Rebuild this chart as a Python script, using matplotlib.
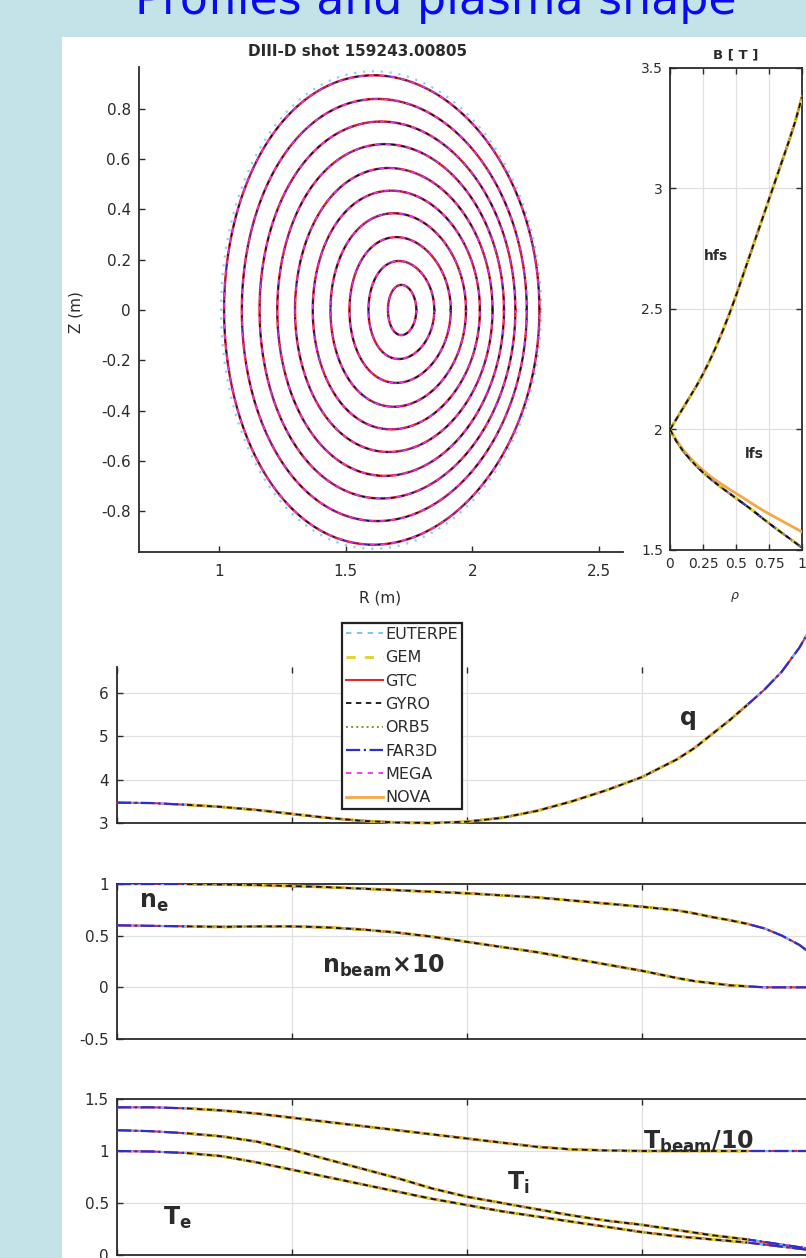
import numpy as np
import matplotlib
matplotlib.use("Agg")
import matplotlib.pyplot as plt
from matplotlib.patches import Rectangle
from matplotlib.lines import Line2D

plt.rcParams['font.family'] = ['DejaVu Sans']
plt.rcParams['axes.unicode_minus'] = False
plt.rcParams['mathtext.fontset'] = 'custom'
plt.rcParams['mathtext.bf'] = 'DejaVu Sans:bold'
plt.rcParams['mathtext.it'] = 'DejaVu Sans:italic'
plt.rcParams['mathtext.rm'] = 'DejaVu Sans'

W, H, DPI = 806, 1258, 100
TEAL = '#c4e3e8'
INK = '#2b2b2b'
GRID = '#e0e0e0'

# ---------------- data ----------------
codes = ["EUTERPE", "GEM", "GTC", "GYRO", "ORB5", "FAR3D", "MEGA", "NOVA"]
code_colors = ['#6fc3e8', '#e6d23a', '#e02a2f', '#111111', '#8e8a3a', '#2f2fc8', '#ee30ee', '#f4a64a']
code_styles = [(0, (3, 3)), (0, (3, 3)), '-', (0, (3, 2.5)), ':', '-.', (0, (3, 3)), '-']
code_widths = [1.3, 2.2, 1.5, 1.3, 1.4, 1.6, 1.3, 2.0]
# radial domain covered by each code in the profile panels
code_rho_min = [0.0, 0.1, 0.0, 0.1, 0.1, 0.0, 0.0, 0.1]
code_rho_max = [1.0, 0.9, 1.0, 0.9, 0.9, 1.0, 1.0, 0.9]

# flux surfaces: inner / outer midplane radius, top height, radius at top (m)
ring_R_in = [1.667, 1.59, 1.515, 1.44, 1.37, 1.30, 1.23, 1.16, 1.09, 1.02]
ring_R_out = [1.779, 1.85, 1.915, 1.975, 2.03, 2.08, 2.125, 2.17, 2.215, 2.265]
ring_Z_top = [0.10, 0.195, 0.29, 0.385, 0.475, 0.565, 0.66, 0.75, 0.84, 0.934]
ring_R_top = [1.72, 1.71, 1.70, 1.69, 1.68, 1.67, 1.655, 1.64, 1.625, 1.61]
# EUTERPE boundary
eut_R_in, eut_R_out, eut_Z_top, eut_R_top = 1.008, 2.272, 0.95, 1.61

# magnetic field on high / low field side
rho_B = [0, 0.05, 0.1, 0.15, 0.2, 0.25, 0.3, 0.35, 0.4, 0.45, 0.5,
         0.55, 0.6, 0.65, 0.7, 0.75, 0.8, 0.85, 0.9, 0.95, 1.0]
B_hfs = [2.0, 2.045, 2.09, 2.135, 2.18, 2.23, 2.285, 2.345, 2.41, 2.48, 2.555,
         2.635, 2.715, 2.795, 2.875, 2.955, 3.035, 3.115, 3.195, 3.28, 3.38]
B_lfs = [2.0, 1.95, 1.91, 1.878, 1.848, 1.822, 1.798, 1.776, 1.755, 1.735, 1.715,
         1.695, 1.675, 1.654, 1.632, 1.611, 1.59, 1.57, 1.55, 1.53, 1.51]
B_lfs_nova = [2.0, 1.955, 1.916, 1.884, 1.856, 1.831, 1.808, 1.788, 1.77, 1.752, 1.735,
              1.718, 1.70, 1.683, 1.666, 1.65, 1.635, 1.62, 1.605, 1.59, 1.575]

# radial profiles
rho = [0, 0.05, 0.1, 0.15, 0.2, 0.25, 0.3, 0.35, 0.4, 0.45, 0.5,
       0.55, 0.6, 0.65, 0.7, 0.75, 0.8, 0.825, 0.85, 0.875, 0.9,
       0.925, 0.95, 0.975, 1.0]
q_prof = [3.47, 3.46, 3.42, 3.37, 3.3, 3.21, 3.12, 3.05, 3.01, 3.0, 3.03,
          3.12, 3.28, 3.5, 3.76, 4.06, 4.47, 4.73, 5.05, 5.37, 5.72,
          6.08, 6.5, 7.05, 7.75]
ne_prof = [1.0, 1.0, 1.0, 0.995, 0.99, 0.98, 0.97, 0.955, 0.94, 0.925, 0.91,
           0.89, 0.87, 0.84, 0.81, 0.78, 0.745, 0.715, 0.68, 0.65, 0.615,
           0.57, 0.5, 0.41, 0.28]
nbeam_prof = [0.6, 0.595, 0.59, 0.585, 0.59, 0.59, 0.58, 0.56, 0.53, 0.49, 0.44,
              0.39, 0.34, 0.28, 0.22, 0.16, 0.09, 0.06, 0.04, 0.02, 0.01,
              0.0, 0.0, 0.0, 0.0]
Tbeam_prof = [1.42, 1.42, 1.41, 1.39, 1.36, 1.32, 1.28, 1.24, 1.2, 1.16, 1.12,
              1.08, 1.04, 1.015, 1.005, 1.0, 1.0, 1.0, 1.0, 1.0, 1.0,
              1.0, 1.0, 1.0, 1.0]
Ti_prof = [1.2, 1.19, 1.17, 1.14, 1.09, 1.01, 0.92, 0.83, 0.74, 0.64, 0.56,
           0.5, 0.44, 0.38, 0.33, 0.29, 0.24, 0.215, 0.19, 0.17, 0.15,
           0.125, 0.1, 0.075, 0.05]
Te_prof = [1.0, 0.995, 0.98, 0.95, 0.89, 0.82, 0.75, 0.68, 0.61, 0.54, 0.48,
           0.42, 0.37, 0.32, 0.27, 0.22, 0.18, 0.165, 0.15, 0.135, 0.12,
           0.1, 0.08, 0.06, 0.04]

# ---------------- figure ----------------
fig = plt.figure(figsize=(W / DPI, H / DPI), dpi=DPI, facecolor=TEAL)
fig.patches.append(Rectangle((62 / W, 0), 1, (H - 37) / H, transform=fig.transFigure,
                             facecolor='white', edgecolor='none', zorder=-10))

fig.text(436 / W, 1 - 14 / H, 'Profiles and plasma shape', ha='center', va='baseline',
         fontsize=33, color='#0a0af0')


def px_axes(x0, y0, x1, y1):
    return fig.add_axes([x0 / W, 1 - y1 / H, (x1 - x0) / W, (y1 - y0) / H])


def style_axes(ax, spines=('left', 'bottom', 'top', 'right')):
    for s in ['left', 'bottom', 'top', 'right']:
        ax.spines[s].set_visible(s in spines)
        ax.spines[s].set_color(INK)
        ax.spines[s].set_linewidth(1.3)
    ax.tick_params(direction='in', length=4, width=1, colors=INK, labelsize=11, pad=6)
    ax.set_facecolor('none')


def surface(R_in, R_out, Z_top, R_top, n=361):
    R0 = 0.5 * (R_in + R_out)
    a = 0.5 * (R_out - R_in)
    kappa = Z_top / a
    delta = (R0 - R_top) / a
    th = np.linspace(0, 2 * np.pi, n)
    return R0 + a * np.cos(th + np.arcsin(delta) * np.sin(th)), kappa * a * np.sin(th)


def cstyle(name):
    i = codes.index(name)
    return dict(color=code_colors[i], ls=code_styles[i], lw=code_widths[i])


# ---- plasma cross-section ----
ax_s = px_axes(139, 67, 623, 552)
style_axes(ax_s, ('left', 'bottom'))
ax_s.set_xlim(0.684, 2.595)
ax_s.set_ylim(-0.963, 0.967)
xt = [1, 1.5, 2, 2.5]
yt = [-0.8, -0.6, -0.4, -0.2, 0, 0.2, 0.4, 0.6, 0.8]
ax_s.set_xticks(xt, ['%g' % v for v in xt])
ax_s.set_yticks(yt, ['%g' % v for v in yt])
ax_s.tick_params(axis='x', pad=9)

Re, Ze = surface(eut_R_in, eut_R_out, eut_Z_top, eut_R_top)
ax_s.plot(Re, Ze, color=code_colors[0], ls=(0, (1, 3)), lw=1.6, alpha=0.8, zorder=2)
for k in range(len(ring_R_in)):
    R, Z = surface(ring_R_in[k], ring_R_out[k], ring_Z_top[k], ring_R_top[k])
    ax_s.plot(R, Z, color=code_colors[2], ls='-', lw=1.8, zorder=3)
    ax_s.plot(R, Z, color=code_colors[5], ls='-.', lw=0.8, zorder=4)
    ax_s.plot(R, Z, color=code_colors[3], ls=(0, (3, 4)), lw=1.0, zorder=5)
    ax_s.plot(R, Z, color=code_colors[6], ls=(3.5, (3, 4)), lw=1.1, zorder=6)

fig.text(358 / W, 1 - 52 / H, 'DIII-D shot 159243.00805', ha='center', va='center',
         fontsize=11, fontweight='bold', color=INK)
fig.text(76 / W, 1 - 312 / H, 'Z (m)', rotation=90, ha='center', va='center',
         fontsize=11, color=INK)
fig.text(380 / W, 1 - 598 / H, 'R (m)', ha='center', va='center', fontsize=11, color=INK)

# ---- magnetic field ----
ax_b = px_axes(670, 68, 802, 550)
style_axes(ax_b)
ax_b.set_xlim(0, 1)
ax_b.set_ylim(1.5, 3.5)
bx = [0, 0.25, 0.5, 0.75, 1]
by = [1.5, 2, 2.5, 3, 3.5]
ax_b.set_xticks(bx, ['%g' % v for v in bx])
ax_b.set_yticks(by, ['%g' % v for v in by])
ax_b.tick_params(labelsize=10, top=True, right=True, pad=5)
ax_b.grid(True, color=GRID, lw=0.9)
order_B = ["GTC", "MEGA", "EUTERPE", "FAR3D", "NOVA", "GEM", "ORB5", "GYRO"]
for z, name in enumerate(order_B):
    st = cstyle(name)
    ax_b.plot(rho_B, B_hfs, **st, zorder=3 + z)
    ax_b.plot(rho_B, B_lfs_nova if name == "NOVA" else B_lfs, **st, zorder=3 + z)
ax_b.text(0.35, 2.72, 'hfs', ha='center', va='center', fontsize=10, fontweight='bold', color=INK)
ax_b.text(0.64, 1.90, 'lfs', ha='center', va='center', fontsize=10, fontweight='bold', color=INK)
fig.text(736 / W, 1 - 55 / H, 'B [ T ]', ha='center', va='center', fontsize=9.5,
         fontweight='bold', color=INK)
fig.text(735 / W, 1 - 597 / H, r'$\rho$', ha='center', va='center', fontsize=9, color=INK)

# ---- profile panels ----
ax_q = px_axes(117, 667, 817, 823)
ax_n = px_axes(117, 884, 817, 1039)
ax_t = px_axes(117, 1099, 817, 1255)
style_axes(ax_q, ('left', 'bottom', 'right'))
style_axes(ax_n)
style_axes(ax_t)
for ax in (ax_q, ax_n, ax_t):
    ax.set_xlim(0, 1)
    ax.set_xticks([0, 0.25, 0.5, 0.75, 1])
    ax.tick_params(labelbottom=False, top=True, right=True)
    ax.grid(True, color=GRID, lw=0.9)
ax_q.set_ylim(3, 6.6)
ax_q.set_yticks([3, 4, 5, 6], ['3', '4', '5', '6'])
ax_n.set_ylim(-0.5, 1)
ax_n.set_yticks([-0.5, 0, 0.5, 1], ['-0.5', '0', '0.5', '1'])
ax_t.set_ylim(0, 1.5)
ax_t.set_yticks([0, 0.5, 1, 1.5], ['0', '0.5', '1', '1.5'])

rho_arr = np.asarray(rho)
order_P = ["GTC", "MEGA", "EUTERPE", "FAR3D", "NOVA", "GEM", "ORB5", "GYRO"]


def draw_profile(ax, values, clip=True):
    vals = np.asarray(values)
    for z, name in enumerate(order_P):
        i = codes.index(name)
        m = (rho_arr >= code_rho_min[i] - 1e-9) & (rho_arr <= code_rho_max[i] + 1e-9)
        ax.plot(rho_arr[m], vals[m], **cstyle(name), zorder=3 + z, clip_on=clip)


draw_profile(ax_q, q_prof, clip=False)
draw_profile(ax_n, ne_prof)
draw_profile(ax_n, nbeam_prof)
draw_profile(ax_t, Tbeam_prof)
draw_profile(ax_t, Ti_prof)
draw_profile(ax_t, Te_prof)

lab = dict(fontsize=17, fontweight='bold', color=INK, ha='center', va='center', zorder=20)
ax_q.text(0.817, 5.42, 'q', **lab)
ax_n.text(0.053, 0.83, r'$\mathbf{n}_{\mathbf{e}}$', **lab)
ax_n.text(0.38, 0.21, r'$\mathbf{n}_{\mathbf{beam}}$×10', **lab)
ax_t.text(0.83, 1.09, r'$\mathbf{T}_{\mathbf{beam}}$/10', **lab)
ax_t.text(0.574, 0.69, r'$\mathbf{T}_{\mathbf{i}}$', **lab)
ax_t.text(0.087, 0.36, r'$\mathbf{T}_{\mathbf{e}}$', **lab)

# legend for all codes
handles = [Line2D([], [], **cstyle(n)) for n in codes]
leg = ax_q.legend(handles, codes, loc='upper left', bbox_to_anchor=(342 / W, 1 - 623 / H),
                  bbox_transform=fig.transFigure, fontsize=11.5, handlelength=2.3,
                  handletextpad=0.15, borderpad=0.25, labelspacing=0.52, borderaxespad=0,
                  fancybox=False, framealpha=1, edgecolor='#222222')
leg.get_frame().set_linewidth(1.6)
leg.set_zorder(30)
for t in leg.get_texts():
    t.set_color(INK)

fig.savefig('out.png', dpi=DPI, facecolor=TEAL)
